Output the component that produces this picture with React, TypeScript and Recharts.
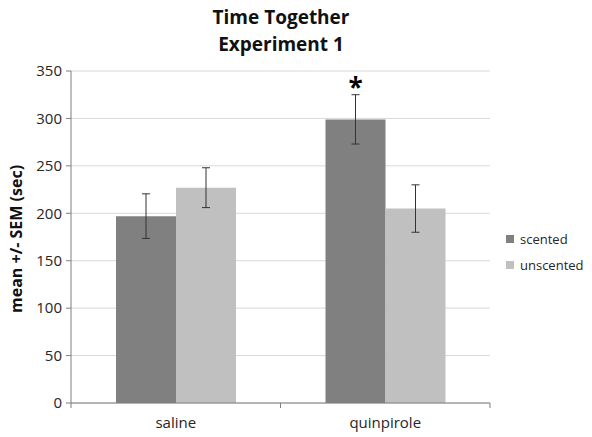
import React from "react";
import {
  BarChart,
  Bar,
  XAxis,
  YAxis,
  CartesianGrid,
  ErrorBar,
  LabelList,
} from "recharts";

const treatments = ["saline", "quinpirole"];
const scented = [197, 299];
const scentedSem = [23.5, 26];
const unscented = [227, 205];
const unscentedSem = [21, 25];
const significance = ["", "*"];
const yTicks = [0, 50, 100, 150, 200, 250, 300, 350];

const data = treatments.map((t, i) => ({
  treatment: t,
  scented: scented[i],
  scentedSem: scentedSem[i],
  unscented: unscented[i],
  unscentedSem: unscentedSem[i],
  sig: significance[i],
}));

const FONT = "'Open Sans', sans-serif";
const TEXT = "#262626";
const AXIS = "#7f7f7f";

const CategoryTick = (props: any) => {
  const { x, y, payload } = props;
  const half = payload && payload.offset ? payload.offset : 104.75;
  return (
    <g>
      <line x1={x - half} y1={y - 8} x2={x - half} y2={y - 3} stroke={AXIS} />
      <line x1={x + half} y1={y - 8} x2={x + half} y2={y - 3} stroke={AXIS} />
      <text
        x={x}
        y={y + 17}
        textAnchor="middle"
        fontFamily={FONT}
        fontSize={15}
        fill={TEXT}
      >
        {payload.value}
      </text>
    </g>
  );
};

const Star = (props: any) => {
  const { x, y, width, value } = props;
  if (!value) return null;
  return (
    <text
      x={x + width / 2}
      y={y - 22}
      textAnchor="middle"
      fontFamily={FONT}
      fontWeight="bold"
      fontSize={26}
      fill="#000"
    >
      {value}
    </text>
  );
};

const legendItems = [
  { name: "scented", color: "#808080" },
  { name: "unscented", color: "#c0c0c0" },
];

export default function App() {
  return (
    <div
      style={{
        position: "absolute",
        left: 0,
        top: 0,
        width: 592,
        height: 437,
        background: "#fff",
      }}
    >
      <div
        style={{
          position: "absolute",
          left: 0,
          width: 562,
          top: 4,
          textAlign: "center",
          fontFamily: FONT,
          fontWeight: "bold",
          fontSize: 19,
          lineHeight: "27px",
          color: "#111",
        }}
      >
        Time Together
        <br />
        Experiment 1
      </div>
      <div
        style={{
          position: "absolute",
          left: 506,
          top: 226,
          fontFamily: FONT,
          fontSize: 13,
          color: TEXT,
          lineHeight: "26px",
        }}
      >
        {legendItems.map((it) => (
          <div key={it.name} style={{ display: "flex", alignItems: "center" }}>
            <span
              style={{
                display: "inline-block",
                width: 8,
                height: 8,
                background: it.color,
                marginRight: 6,
              }}
            />
            {it.name}
          </div>
        ))}
      </div>
      <BarChart
        width={592}
        height={437}
        data={data}
        margin={{ top: 71, right: 102, bottom: 0, left: 0 }}
        barSize={60}
        barGap={0}
      >
        <CartesianGrid vertical={false} stroke="#d9d9d9" />
        <XAxis
          dataKey="treatment"
          height={34}
          axisLine={{ stroke: AXIS }}
          tickLine={false}
          tick={<CategoryTick />}
          interval={0}
        />
        <YAxis
          width={71}
          domain={[0, 350]}
          ticks={yTicks}
          interval={0}
          axisLine={{ stroke: AXIS }}
          tickLine={{ stroke: AXIS }}
          tickSize={5}
          tickMargin={4}
          tick={{ fontFamily: FONT, fontSize: 15, fill: TEXT }}
          label={{
            value: "mean +/- SEM (sec)",
            angle: -90,
            position: "insideLeft",
            dx: 11,
            dy: 76,
            style: {
              fontFamily: FONT,
              fontWeight: "bold",
              fontSize: 16,
              fill: "#111",
            },
          }}
        />
        <Bar dataKey="scented" fill="#808080" isAnimationActive={false}>
          <ErrorBar dataKey="scentedSem" width={4} stroke="#333" strokeWidth={1} />
          <LabelList dataKey="sig" content={<Star />} />
        </Bar>
        <Bar dataKey="unscented" fill="#c0c0c0" isAnimationActive={false}>
          <ErrorBar dataKey="unscentedSem" width={4} stroke="#333" strokeWidth={1} />
        </Bar>
      </BarChart>
    </div>
  );
}
